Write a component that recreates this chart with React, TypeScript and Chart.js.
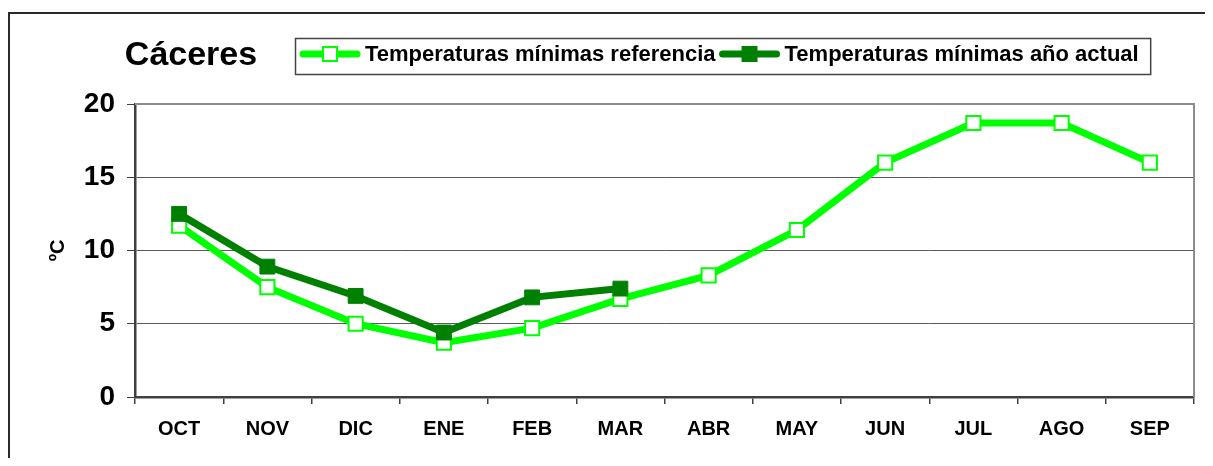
import React, { useEffect, useRef } from "react";
import { Chart, registerables } from "chart.js";

Chart.register(...registerables);

const TITLE = "Cáceres";
const months = ["OCT", "NOV", "DIC", "ENE", "FEB", "MAR", "ABR", "MAY", "JUN", "JUL", "AGO", "SEP"];
const refLabel = "Temperaturas mínimas referencia";
const curLabel = "Temperaturas mínimas año actual";
const refValues = [11.7, 7.5, 5.0, 3.7, 4.7, 6.7, 8.3, 11.4, 16.0, 18.7, 18.7, 16.0];
const curValues = [12.5, 8.9, 6.9, 4.4, 6.8, 7.4, null, null, null, null, null, null];
const yTicks = [0, 5, 10, 15, 20];
const yTitle = "ºC";

const LIGHT = "#00ff00";
const DARK = "#008000";
const FONT = "'Liberation Sans', Arial, Helvetica, sans-serif";

const decorPlugin = {
  id: "decor",
  beforeDraw(chart: any) {
    const { ctx, width } = chart;
    ctx.save();
    ctx.fillStyle = "#ffffff";
    ctx.fillRect(0, 0, width, chart.height);
    ctx.restore();
  },
  afterDraw(chart: any) {
    const { ctx, chartArea } = chart;
    ctx.save();
    // outer border
    ctx.strokeStyle = "#2a2a2a";
    ctx.lineWidth = 2;
    ctx.strokeRect(1, 5, 1203, 500);
    // plot top/right border
    ctx.strokeStyle = "#8c8c8c";
    ctx.lineWidth = 2;
    ctx.beginPath();
    ctx.moveTo(chartArea.left, chartArea.top);
    ctx.lineTo(chartArea.right, chartArea.top);
    ctx.lineTo(chartArea.right, chartArea.bottom);
    ctx.stroke();
    // title
    ctx.fillStyle = "#000";
    ctx.font = `bold 34px ${FONT}`;
    ctx.textAlign = "center";
    ctx.textBaseline = "middle";
    ctx.fillText(TITLE, 183, 48);
    // legend
    ctx.font = `bold 22px ${FONT}`;
    ctx.textAlign = "left";
    const ly = 46;
    const drawItem = (x0: number, color: string, filled: boolean, label: string) => {
      ctx.strokeStyle = color;
      ctx.lineWidth = 7;
      ctx.lineCap = "round";
      ctx.beginPath();
      ctx.moveTo(x0 + 3, ly);
      ctx.lineTo(x0 + 57, ly);
      ctx.stroke();
      ctx.lineCap = "butt";
      const cx = x0 + 30;
      ctx.fillStyle = filled ? color : "#ffffff";
      ctx.fillRect(cx - 7, ly - 7, 14, 14);
      ctx.lineWidth = 2;
      ctx.strokeStyle = color;
      ctx.strokeRect(cx - 7, ly - 7, 14, 14);
      ctx.fillStyle = "#000";
      ctx.fillText(label, x0 + 65, ly + 1);
      return x0 + 65 + ctx.measureText(label).width;
    };
    const e1 = drawItem(292, LIGHT, false, refLabel);
    const e2 = drawItem(e1 + 4, DARK, true, curLabel);
    ctx.strokeStyle = "#444";
    ctx.lineWidth = 1.5;
    ctx.strokeRect(287.5, 30.5, e2 + 12 - 287.5, 36);
    ctx.restore();
  },
};

export default function App() {
  const ref = useRef<HTMLCanvasElement | null>(null);
  useEffect(() => {
    if (!ref.current) return;
    const chart = new Chart(ref.current, {
      type: "line",
      data: {
        labels: months,
        datasets: [
          {
            label: curLabel,
            data: curValues,
            borderColor: DARK,
            backgroundColor: DARK,
            borderWidth: 7,
            pointStyle: "rect",
            pointRadius: 10.5,
            pointBorderWidth: 1,
            pointBorderColor: DARK,
            pointBackgroundColor: DARK,
            order: 0,
            spanGaps: false,
          },
          {
            label: refLabel,
            data: refValues,
            borderColor: LIGHT,
            backgroundColor: LIGHT,
            borderWidth: 7,
            pointStyle: "rect",
            pointRadius: 10,
            pointBorderWidth: 2,
            pointBorderColor: LIGHT,
            pointBackgroundColor: "#ffffff",
            order: 1,
          },
        ],
      },
      options: {
        responsive: false,
        animation: false,
        layout: { padding: { top: 96, right: 19, left: 34, bottom: 0 } },
        plugins: { legend: { display: false }, title: { display: false }, tooltip: { enabled: false } },
        scales: {
          x: {
            offset: true,
            grid: { offset: true, drawOnChartArea: false, tickLength: 7, color: "#404040", tickColor: "#404040", lineWidth: 1.5 },
            border: { color: "#404040", width: 2.5 },
            ticks: { font: { family: FONT, size: 20, weight: "bold" }, color: "#000", padding: 13, maxRotation: 0 },
            afterFit: (s: any) => { s.height = 69; },
          },
          y: {
            min: 0,
            max: 20,
            afterBuildTicks: (s: any) => { s.ticks = yTicks.map((v) => ({ value: v })); },
            grid: { color: "#5a5a5a", tickColor: "#404040", tickLength: 8, lineWidth: 1 },
            border: { color: "#404040", width: 2.5 },
            ticks: { font: { family: FONT, size: 28, weight: "bold" }, color: "#000", padding: 12 },
            title: { display: true, text: yTitle, font: { family: FONT, size: 20, weight: "bold" }, color: "#000", padding: 4 },
            afterFit: (s: any) => { s.width = 93; },
          },
        },
      },
      plugins: [decorPlugin],
    });
    return () => chart.destroy();
  }, []);
  return (
    <div style={{ width: 1205, height: 458, marginBottom: -8 }}>
      <canvas ref={ref} width={1205} height={458} style={{ display: "block" }} />
    </div>
  );
}
